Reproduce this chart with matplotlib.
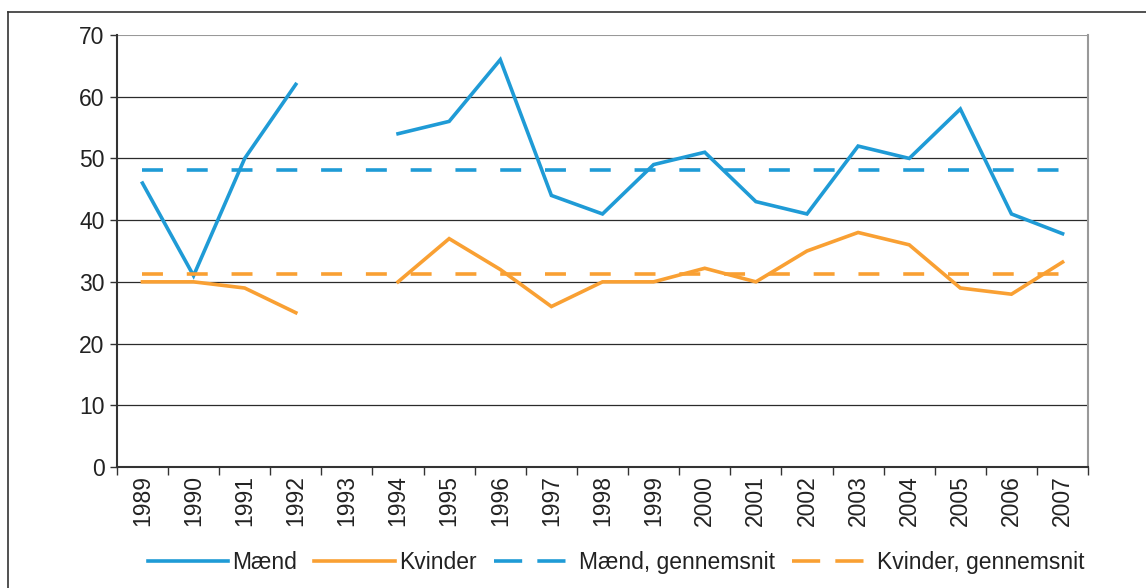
import matplotlib.pyplot as plt
import numpy as np
from matplotlib.lines import Line2D

# data
years = [str(y) for y in range(1989, 2008)]
maend = [46, 31, 50, 62, np.nan, 54, 56, 66, 44, 41, 49, 51, 43, 41, 52, 50, 58, 41, 37.8]
kvinder = [30, 30, 29, 25, np.nan, 30, 37, 32, 26, 30, 30, 32.2, 30, 35, 38, 36, 29, 28, 33.2]
maend_avg = 48.2
kvinder_avg = 31.2

blue = '#1f9bd6'
orange = '#f9a033'

plt.rcParams['font.family'] = ['Liberation Sans', 'DejaVu Sans']
fs = 16.5
lw = 2.6

fig = plt.figure(figsize=(11.46, 5.88), dpi=100)
ax = fig.add_axes([0.102, 0.2058, 0.8475, 0.7347])

x = np.arange(len(years))
ax.plot(x, maend, color=blue, lw=lw, solid_joinstyle='miter')
ax.plot(x, kvinder, color=orange, lw=lw, solid_joinstyle='miter')
ax.plot(x, [maend_avg] * len(x), color=blue, lw=lw, ls=(0, (5.8, 6.6)))
ax.plot(x, [kvinder_avg] * len(x), color=orange, lw=lw, ls=(0, (5.8, 6.6)))

ax.set_xlim(-0.5, len(years) - 0.5)
ax.set_ylim(0, 70)
ax.set_yticks(range(0, 71, 10))
for v in range(10, 70, 10):
    ax.axhline(v, color='#2b2b2b', lw=0.9, zorder=0)
ax.axhline(70, color='#999999', lw=1.5, zorder=0)

ax.set_xticks(np.arange(-0.5, len(years)), labels=[])
ax.set_xticks(x, labels=years, minor=True, rotation=90)
ax.tick_params(axis='x', which='major', length=6, width=1, color='#333333', direction='out')
ax.tick_params(axis='x', which='minor', length=0, pad=6, labelsize=fs, labelcolor='#222222')
ax.tick_params(axis='y', length=5, width=1, color='#333333', labelsize=fs,
               labelcolor='#222222', pad=4)

for s in ['left', 'bottom']:
    ax.spines[s].set_color('#333333')
    ax.spines[s].set_linewidth(1.5)
ax.spines['top'].set_visible(False)
ax.spines['right'].set_color('#999999')
ax.spines['right'].set_linewidth(1.5)

handles = [
    Line2D([], [], color=blue, lw=lw),
    Line2D([], [], color=orange, lw=lw),
    Line2D([], [], color=blue, lw=lw, ls=(0, (7.8, 4.2))),
    Line2D([], [], color=orange, lw=lw, ls=(0, (7.8, 4.2))),
]
labels = ['Mænd', 'Kvinder', 'Mænd, gennemsnit', 'Kvinder, gennemsnit']
fig.legend(handles, labels, loc='center', bbox_to_anchor=(0.5375, 0.044), ncol=4,
           frameon=False, fontsize=fs, handlelength=3.5, handletextpad=0.2,
           columnspacing=0.75, labelcolor='#222222')

# outer frame (left and top edges only visible)
fig.add_artist(Line2D([8 / 1146, 8 / 1146], [0, 1 - 12 / 588], transform=fig.transFigure,
                      color='#333333', lw=1.2))
fig.add_artist(Line2D([8 / 1146, 1], [1 - 12 / 588, 1 - 12 / 588], transform=fig.transFigure,
                      color='#333333', lw=1.2))

fig.savefig('out.png', dpi=100)
